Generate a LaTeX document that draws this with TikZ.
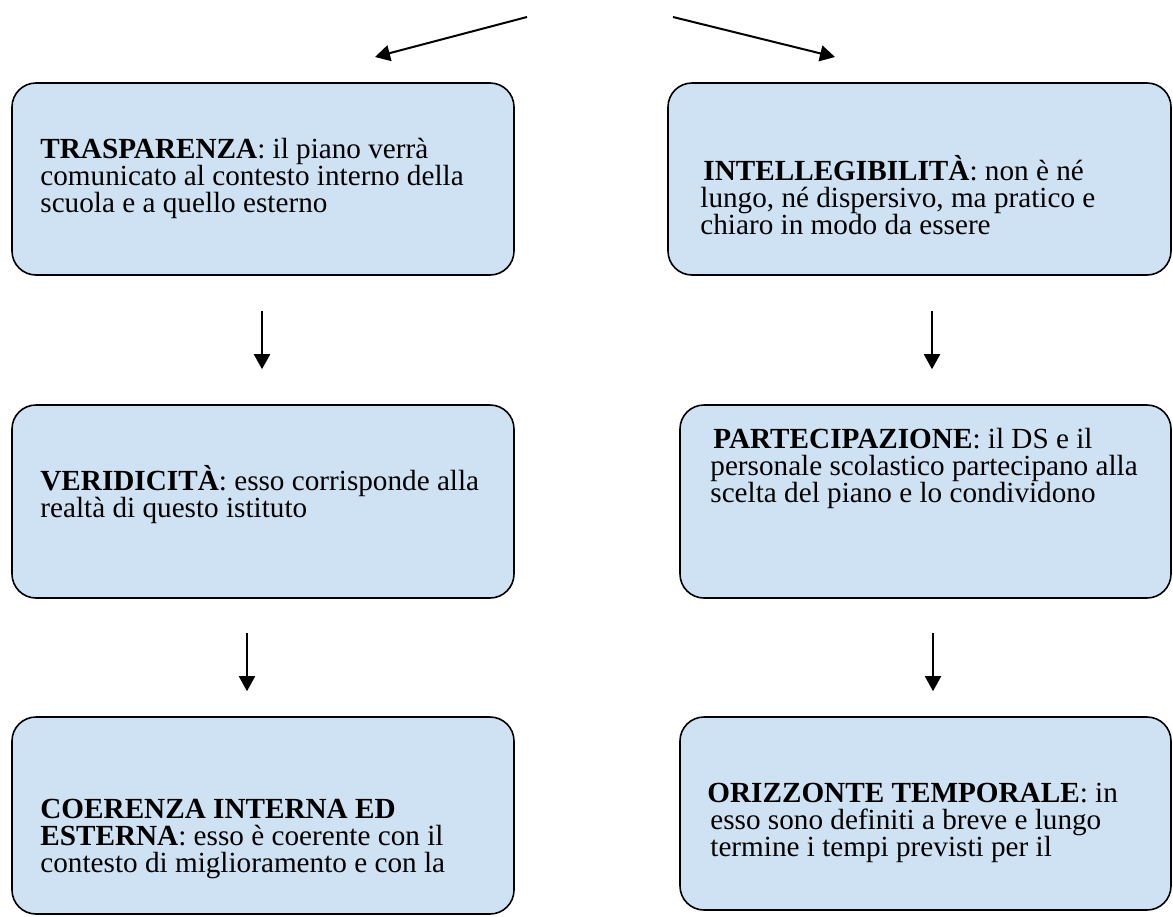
\documentclass[tikz,border=0pt]{standalone}
\usepackage{fontspec}
\setmainfont{Liberation Serif}
\usetikzlibrary{arrows.meta}
\usepackage{xcolor}
\definecolor{boxblue}{RGB}{207,226,243}

\begin{document}
\begin{tikzpicture}[x=0.5pt,y=-0.5pt,
    f/.style={->,line width=1pt,>={Triangle[length=7.5pt,width=8pt]}},%
    b/.style={draw,line width=0.8pt,fill=boxblue,rounded corners=12pt,inner sep=0pt},%
    t/.style={anchor=base west,align=left,inner sep=0pt,font=\fontsize{14.6pt}{13.3pt}\selectfont}]
    \useasboundingbox (0,0) rectangle (1173,916);
    \node[b,minimum width=251pt,minimum height=96pt] (trasp) at (263,179) {};
    \node[b,minimum width=251.5pt,minimum height=96pt] (intel) at (919.5,179) {};
    \node[b,minimum width=251pt,minimum height=96.5pt] (veri) at (263,501.5) {};
    \node[b,minimum width=245.5pt,minimum height=96.5pt] (parte) at (925.5,501.5) {};
    \node[b,minimum width=251pt,minimum height=98.5pt] (coer) at (263,815.5) {};
    \node[b,minimum width=245.5pt,minimum height=96.5pt] (oriz) at (925.5,813.5) {};

    % texts, anchored at the baseline of their last line
    \node[t] (trasp-t) at (40,212) {\textbf{TRASPARENZA}: il piano verrà\\comunicato al contesto interno della\\scuola e a quello esterno};
    \node[t] (intel-t) at (700,234) {\hspace*{1.5pt}\textbf{INTELLEGIBILITÀ}: non è né\\lungo, né dispersivo, ma pratico e\\chiaro in modo da essere};
    \node[t] (veri-t) at (40,517) {\textbf{VERIDICITÀ}: esso corrisponde alla\\realtà di questo istituto};
    \node[t] (parte-t) at (710,502) {\hspace*{1.5pt}\textbf{PARTECIPAZIONE}: il DS e il\\personale scolastico partecipano alla\\scelta del piano e lo condividono};
    \node[t] (coer-t) at (40,872) {\textbf{COERENZA INTERNA ED}\\\textbf{ESTERNA}: esso è coerente con il\\contesto di miglioramento e con la};
    \node[t] (oriz-t) at (707,856) {\textbf{ORIZZONTE TEMPORALE}: in\\\hspace*{1.5pt}esso sono definiti a breve e lungo\\\hspace*{1.5pt}termine i tempi previsti per il};

    \coordinate (srcl) at (527,17);
    \coordinate (srcr) at (673,17);
    \coordinate (endl) at (375,57);
    \coordinate (endr) at (835,57);
    \draw[f] (srcl) -- (endl);
    \draw[f] (srcr) -- (endr);

    \draw[f] ([xshift=-0.5pt,yshift=-17.5pt]trasp.south) -- ([xshift=-0.5pt,yshift=17.5pt]veri.north);
    \draw[f] ([xshift=-8pt,yshift=-17pt]veri.south) -- ([xshift=-8pt,yshift=12.5pt]coer.north);
    \draw[f] ([xshift=6.25pt,yshift=-17.5pt]intel.south) -- ([xshift=3.25pt,yshift=17.5pt]parte.north);
    \draw[f] ([xshift=3.75pt,yshift=-17pt]parte.south) -- ([xshift=3.75pt,yshift=12.5pt]oriz.north);
\end{tikzpicture}
\end{document}
